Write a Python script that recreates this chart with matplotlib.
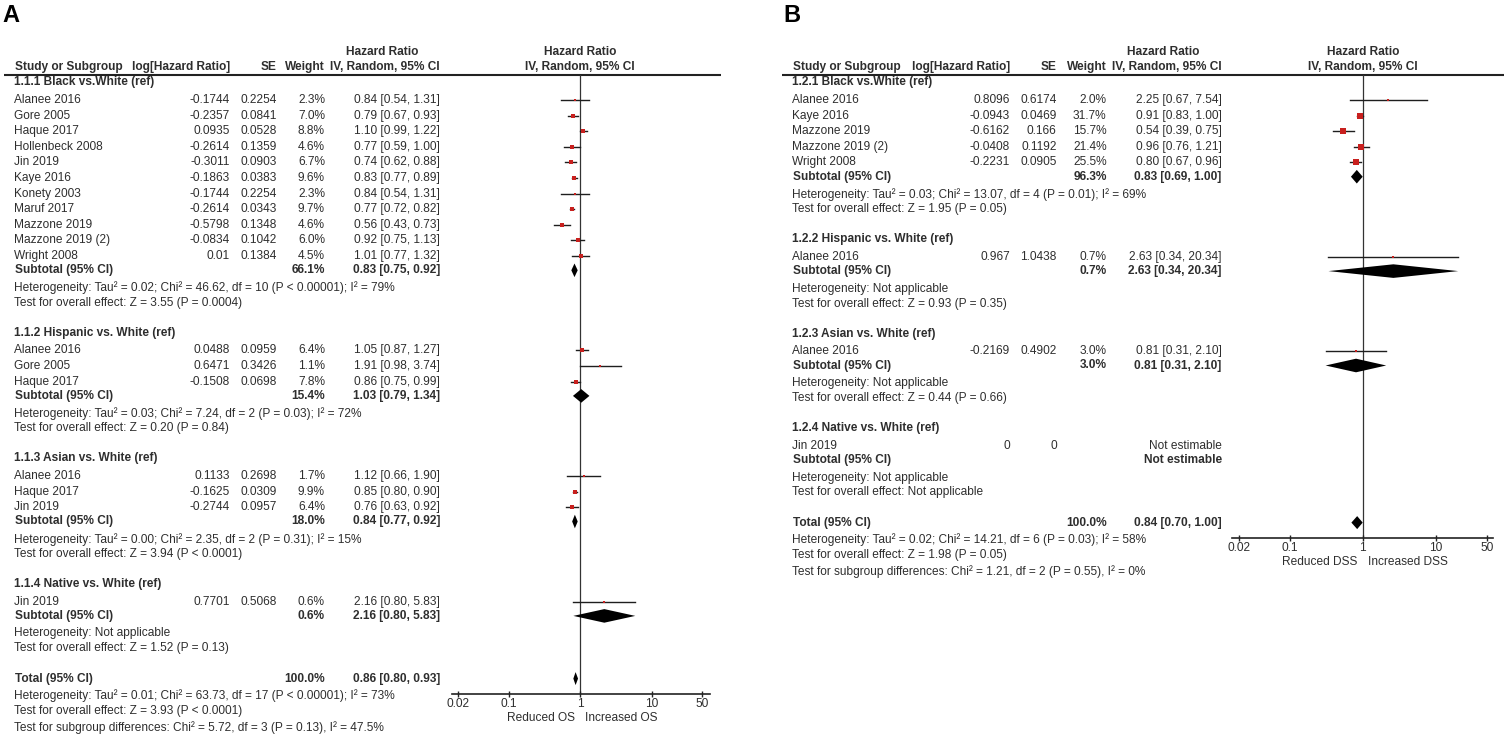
import numpy as np
import matplotlib.pyplot as plt

plt.rcParams['font.family'] = ['Liberation Sans', 'DejaVu Sans']

W, H = 1504, 734
FS = 8.6
TXT = '#2e2e2e'
RED = '#c8201e'

# ---------------- panel A : overall survival ----------------
a_groups = ["1.1.1 Black vs.White (ref)", "1.1.2 Hispanic vs. White (ref)",
            "1.1.3 Asian vs. White (ref)", "1.1.4 Native vs. White (ref)"]
a_group_of = [0] * 11 + [1] * 3 + [2] * 3 + [3]
a_study = ["Alanee 2016", "Gore 2005", "Haque 2017", "Hollenbeck 2008", "Jin 2019",
           "Kaye 2016", "Konety 2003", "Maruf 2017", "Mazzone 2019", "Mazzone 2019 (2)",
           "Wright 2008",
           "Alanee 2016", "Gore 2005", "Haque 2017",
           "Alanee 2016", "Haque 2017", "Jin 2019",
           "Jin 2019"]
a_loghr = ["-0.1744", "-0.2357", "0.0935", "-0.2614", "-0.3011", "-0.1863", "-0.1744",
           "-0.2614", "-0.5798", "-0.0834", "0.01",
           "0.0488", "0.6471", "-0.1508",
           "0.1133", "-0.1625", "-0.2744",
           "0.7701"]
a_se = ["0.2254", "0.0841", "0.0528", "0.1359", "0.0903", "0.0383", "0.2254", "0.0343",
        "0.1348", "0.1042", "0.1384",
        "0.0959", "0.3426", "0.0698",
        "0.2698", "0.0309", "0.0957",
        "0.5068"]
a_weight = [2.3, 7.0, 8.8, 4.6, 6.7, 9.6, 2.3, 9.7, 4.6, 6.0, 4.5,
            6.4, 1.1, 7.8, 1.7, 9.9, 6.4, 0.6]
a_hr = [0.84, 0.79, 1.10, 0.77, 0.74, 0.83, 0.84, 0.77, 0.56, 0.92, 1.01,
        1.05, 1.91, 0.86, 1.12, 0.85, 0.76, 2.16]
a_lo = [0.54, 0.67, 0.99, 0.59, 0.62, 0.77, 0.54, 0.72, 0.43, 0.75, 0.77,
        0.87, 0.98, 0.75, 0.66, 0.80, 0.63, 0.80]
a_hi = [1.31, 0.93, 1.22, 1.00, 0.88, 0.89, 1.31, 0.82, 0.73, 1.13, 1.32,
        1.27, 3.74, 0.99, 1.90, 0.90, 0.92, 5.83]
a_sub_weight = [66.1, 15.4, 18.0, 0.6]
a_sub_hr = [0.83, 1.03, 0.84, 2.16]
a_sub_lo = [0.75, 0.79, 0.77, 0.80]
a_sub_hi = [0.92, 1.34, 0.92, 5.83]
a_het = ["Heterogeneity: Tau² = 0.02; Chi² = 46.62, df = 10 (P < 0.00001); I² = 79%",
         "Heterogeneity: Tau² = 0.03; Chi² = 7.24, df = 2 (P = 0.03); I² = 72%",
         "Heterogeneity: Tau² = 0.00; Chi² = 2.35, df = 2 (P = 0.31); I² = 15%",
         "Heterogeneity: Not applicable"]
a_test = ["Test for overall effect: Z = 3.55 (P = 0.0004)",
          "Test for overall effect: Z = 0.20 (P = 0.84)",
          "Test for overall effect: Z = 3.94 (P < 0.0001)",
          "Test for overall effect: Z = 1.52 (P = 0.13)"]
a_total = [100.0, 0.86, 0.80, 0.93]
a_total_notes = ["Heterogeneity: Tau² = 0.01; Chi² = 63.73, df = 17 (P < 0.00001); I² = 73%",
                 "Test for overall effect: Z = 3.93 (P < 0.0001)",
                 "Test for subgroup differences: Chi² = 5.72, df = 3 (P = 0.13), I² = 47.5%"]

# ---------------- panel B : disease specific survival ----------------
b_groups = ["1.2.1 Black vs.White (ref)", "1.2.2 Hispanic vs. White (ref)",
            "1.2.3 Asian vs. White (ref)", "1.2.4 Native vs. White (ref)"]
b_group_of = [0, 0, 0, 0, 0, 1, 2, 3]
b_study = ["Alanee 2016", "Kaye 2016", "Mazzone 2019", "Mazzone 2019 (2)", "Wright 2008",
           "Alanee 2016", "Alanee 2016", "Jin 2019"]
b_loghr = ["0.8096", "-0.0943", "-0.6162", "-0.0408", "-0.2231", "0.967", "-0.2169", "0"]
b_se = ["0.6174", "0.0469", "0.166", "0.1192", "0.0905", "1.0438", "0.4902", "0"]
b_weight = [2.0, 31.7, 15.7, 21.4, 25.5, 0.7, 3.0, None]
b_hr = [2.25, 0.91, 0.54, 0.96, 0.80, 2.63, 0.81, None]
b_lo = [0.67, 0.83, 0.39, 0.76, 0.67, 0.34, 0.31, None]
b_hi = [7.54, 1.00, 0.75, 1.21, 0.96, 20.34, 2.10, None]
b_sub_weight = [96.3, 0.7, 3.0, None]
b_sub_hr = [0.83, 2.63, 0.81, None]
b_sub_lo = [0.69, 0.34, 0.31, None]
b_sub_hi = [1.00, 20.34, 2.10, None]
b_het = ["Heterogeneity: Tau² = 0.03; Chi² = 13.07, df = 4 (P = 0.01); I² = 69%",
         "Heterogeneity: Not applicable",
         "Heterogeneity: Not applicable",
         "Heterogeneity: Not applicable"]
b_test = ["Test for overall effect: Z = 1.95 (P = 0.05)",
          "Test for overall effect: Z = 0.93 (P = 0.35)",
          "Test for overall effect: Z = 0.44 (P = 0.66)",
          "Test for overall effect: Not applicable"]
b_total = [100.0, 0.84, 0.70, 1.00]
b_total_notes = ["Heterogeneity: Tau² = 0.02; Chi² = 14.21, df = 6 (P = 0.03); I² = 58%",
                 "Test for overall effect: Z = 1.98 (P = 0.05)",
                 "Test for subgroup differences: Chi² = 1.21, df = 2 (P = 0.55), I² = 0%"]

ticks = [0.02, 0.1, 1, 10, 50]
tick_labels = ["0.02", "0.1", "1", "10", "50"]


def ci_text(hr, lo, hi):
    if hr is None:
        return "Not estimable"
    return f"{hr:.2f} [{lo:.2f}, {hi:.2f}]"


def draw_panel(bg, d, pos):
    # pos holds pixel positions of the columns and the plot area
    def t(x, y, s, ha='left', bold=False, size=FS):
        bg.text(x, y, s, ha=ha, va='center', fontsize=size, color=TXT,
                fontweight='bold' if bold else 'normal')

    top = 74.5
    bg.text(pos['letter'], 16, d['letter'], fontsize=17, fontweight='bold',
            ha='left', va='center', color='black')
    t(pos['name'] + 1, 67, "Study or Subgroup", bold=True)
    t(pos['loghr'], 67, "log[Hazard Ratio]", ha='right', bold=True)
    t(pos['se'], 67, "SE", ha='right', bold=True)
    t(pos['w'], 67, "Weight", ha='right', bold=True)
    t(pos['ci'], 67, "IV, Random, 95% CI", ha='right', bold=True)
    t(pos['hrc'], 52, "Hazard Ratio", ha='center', bold=True)
    t(pos['one'], 67, "IV, Random, 95% CI", ha='center', bold=True)
    t(pos['one'], 52, "Hazard Ratio", ha='center', bold=True)
    bg.plot([pos['line0'], pos['line1']], [top, top], color='#222222', lw=1.5,
            solid_capstyle='butt')

    # row layout
    y = 82.3
    study_y, sub_y = [], []
    for g, title in enumerate(d['groups']):
        t(pos['name'], y, title, bold=True)
        idx = [i for i, k in enumerate(d['group_of']) if k == g]
        ys = y + 17.7 + 15.6 * np.arange(len(idx))
        for i, yy in zip(idx, ys):
            study_y.append(yy)
            t(pos['name'], yy, d['study'][i])
            t(pos['loghr'], yy, d['loghr'][i], ha='right')
            t(pos['se'], yy, d['se'][i], ha='right')
            if d['weight'][i] is not None:
                t(pos['w'], yy, f"{d['weight'][i]:.1f}%", ha='right')
            t(pos['ci'], yy, ci_text(d['hr'][i], d['lo'][i], d['hi'][i]), ha='right')
        sy = ys[-1] + 14.3
        sub_y.append(sy)
        t(pos['name'] + 1, sy, "Subtotal (95% CI)", bold=True)
        if d['sub_w'][g] is not None:
            t(pos['w'], sy, f"{d['sub_w'][g]:.1f}%", ha='right', bold=True)
        t(pos['ci'], sy, ci_text(d['sub_hr'][g], d['sub_lo'][g], d['sub_hi'][g]),
          ha='right', bold=True)
        t(pos['name'], sy + 17.6, d['het'][g])
        t(pos['name'], sy + 32.4, d['test'][g])
        y = sy + 32.4 + 30.0

    ty = y + 0.3
    tot = d['total']
    t(pos['name'] + 1, ty, "Total (95% CI)", bold=True)
    t(pos['w'], ty, f"{tot[0]:.1f}%", ha='right', bold=True)
    t(pos['ci'], ty, ci_text(tot[1], tot[2], tot[3]), ha='right', bold=True)
    for k, note in enumerate(d['total_notes']):
        t(pos['name'], ty + 16.6 + 16.0 * k, note)

    # forest plot axes in the same pixel rows
    axis_y = ty + 15.0
    left, right, one, dec = pos['ax0'], pos['ax1'], pos['one'], pos['dec']
    ax = bg.figure.add_axes([left / W, 1 - axis_y / H, (right - left) / W,
                             (axis_y - top) / H])
    ax.patch.set_alpha(0)
    ax.set_xscale('log')
    ax.set_xlim(10 ** ((left - one) / dec), 10 ** ((right - one) / dec))
    ax.set_ylim(axis_y, top)
    for s in ['top', 'left', 'right']:
        ax.spines[s].set_visible(False)
    ax.spines['bottom'].set_linewidth(1.2)
    ax.spines['bottom'].set_color('#222222')
    ax.set_xticks(ticks)
    ax.set_xticklabels(tick_labels)
    ax.minorticks_off()
    ax.set_yticks([])
    ax.tick_params(axis='x', direction='inout', length=5, width=1.0, color='#222222',
                   labelsize=FS, labelcolor=TXT, pad=0.5)
    ax.axvline(1, color='#333333', lw=0.9, zorder=1)

    for i, yy in enumerate(study_y):
        if d['hr'][i] is None:
            continue
        ax.plot([d['lo'][i], d['hi'][i]], [yy, yy], color='#1e1e1e', lw=1.0, zorder=2)
        side = (0.9 + 1.08 * np.sqrt(d['weight'][i])) * 0.72
        ax.scatter([d['hr'][i]], [yy], marker='s', s=side ** 2, color=RED,
                   linewidths=0, zorder=3)
    for g, sy in enumerate(sub_y):
        if d['sub_hr'][g] is None:
            continue
        lo, hr, hi = d['sub_lo'][g], d['sub_hr'][g], d['sub_hi'][g]
        ax.fill([lo, hr, hi, hr], [sy, sy - 6.8, sy, sy + 6.8], color='black',
                lw=0, zorder=3)
    ax.fill([tot[2], tot[1], tot[3], tot[1]], [ty, ty - 6.5, ty, ty + 6.5],
            color='black', lw=0, zorder=3)

    t(one - 5, axis_y + 24.5, d['reduced'], ha='right')
    t(one + 5, axis_y + 24.5, d['increased'])


fig = plt.figure(figsize=(W / 100, H / 100), dpi=100)
bg = fig.add_axes([0, 0, 1, 1])
bg.set_xlim(0, W)
bg.set_ylim(H, 0)
bg.axis('off')

panel_a = dict(letter="A", groups=a_groups, group_of=a_group_of, study=a_study,
               loghr=a_loghr, se=a_se, weight=a_weight, hr=a_hr, lo=a_lo, hi=a_hi,
               sub_w=a_sub_weight, sub_hr=a_sub_hr, sub_lo=a_sub_lo, sub_hi=a_sub_hi,
               het=a_het, test=a_test, total=a_total, total_notes=a_total_notes,
               reduced="Reduced OS", increased="Increased OS")
panel_b = dict(letter="B", groups=b_groups, group_of=b_group_of, study=b_study,
               loghr=b_loghr, se=b_se, weight=b_weight, hr=b_hr, lo=b_lo, hi=b_hi,
               sub_w=b_sub_weight, sub_hr=b_sub_hr, sub_lo=b_sub_lo, sub_hi=b_sub_hi,
               het=b_het, test=b_test, total=b_total, total_notes=b_total_notes,
               reduced="Reduced DSS", increased="Increased DSS")

pos_a = dict(letter=2, name=14, loghr=230, se=276.5, w=325, ci=440, hrc=382.5,
             one=580.3, dec=71.8, ax0=451.7, ax1=710, line0=4, line1=721)
pos_b = dict(letter=783, name=792.3, loghr=1010, se=1056.7, w=1106.7, ci=1221.7,
             hrc=1163.5, one=1362.7, dec=73.0, ax0=1232, ax1=1493, line0=782, line1=1504)

draw_panel(bg, panel_a, pos_a)
draw_panel(bg, panel_b, pos_b)

fig.savefig("out.png", dpi=100)
